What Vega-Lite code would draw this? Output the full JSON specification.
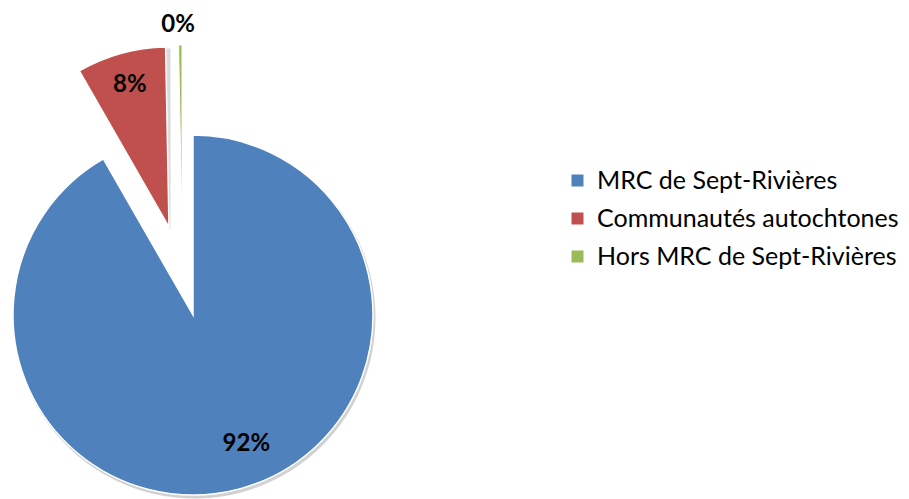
{
  "$schema": "https://vega.github.io/schema/vega-lite/v6.json",
  "width": 386,
  "height": 362,
  "autosize": "none",
  "padding": {"left": 0, "top": 134, "right": 523, "bottom": 3},
  "background": "white",
  "data": {"values": [
    {"cat": "MRC de Sept-Rivières", "value": 91.7, "label": "92%"},
    {"cat": "Communautés autochtones", "value": 8.0, "label": "8%"},
    {"cat": "Hors MRC de Sept-Rivières", "value": 0.3, "label": "0%"}
  ]},
  "encoding": {
    "theta": {"field": "value", "type": "quantitative", "stack": true},
    "order": {"field": "value", "type": "quantitative", "sort": "descending"},
    "color": {
      "field": "cat", "type": "nominal",
      "sort": ["MRC de Sept-Rivières", "Communautés autochtones", "Hors MRC de Sept-Rivières"],
      "scale": {"domain": ["MRC de Sept-Rivières", "Communautés autochtones", "Hors MRC de Sept-Rivières"], "range": ["#4F81BD", "#C0504D", "#9BBB59"]},
      "legend": {"title": null, "orient": "none", "legendX": 565, "legendY": 34}
    }
  },
  "layer": [
    {
      "mark": {"type": "arc", "outerRadius": 181, "xOffset": 1.5, "yOffset": 2.5},
      "encoding": {"color": {"value": "#000000"}, "opacity": {"condition": {"test": "datum.cat === 'MRC de Sept-Rivières'", "value": 0.18}, "value": 0}}
    },
    {
      "mark": {"type": "arc", "outerRadius": 181, "xOffset": -22.5, "yOffset": -85.5},
      "encoding": {"color": {"value": "#000000"}, "opacity": {"condition": {"test": "datum.cat !== 'MRC de Sept-Rivières'", "value": 0.15}, "value": 0}}
    },
    {
      "mark": {"type": "arc", "outerRadius": 180, "stroke": "white", "strokeWidth": 1.5},
      "encoding": {"opacity": {"condition": {"test": "datum.cat === 'MRC de Sept-Rivières'", "value": 1}, "value": 0}}
    },
    {
      "mark": {"type": "arc", "outerRadius": 180, "stroke": "white", "strokeWidth": 1.5, "xOffset": -24, "yOffset": -88},
      "encoding": {"opacity": {"condition": {"test": "datum.cat === 'Communautés autochtones'", "value": 1}, "value": 0}}
    },
    {
      "mark": {"type": "arc", "outerRadius": 182, "stroke": "white", "strokeWidth": 1, "xOffset": -11, "yOffset": -88},
      "encoding": {"opacity": {"condition": {"test": "datum.cat === 'Hors MRC de Sept-Rivières'", "value": 1}, "value": 0}}
    },
    {
      "mark": {"type": "text", "radius": 133, "dx": 19, "font": "Lato", "fontWeight": "bold", "fontSize": 24, "baseline": "middle"},
      "encoding": {"color": {"value": "black"}, "text": {"condition": {"test": "datum.cat === 'MRC de Sept-Rivières'", "field": "label"}, "value": ""}}
    },
    {
      "mark": {"type": "text", "radius": 147, "xOffset": -24, "yOffset": -88, "font": "Lato", "fontWeight": "bold", "fontSize": 24, "baseline": "middle"},
      "encoding": {"color": {"value": "black"}, "text": {"condition": {"test": "datum.cat === 'Communautés autochtones'", "field": "label"}, "value": ""}}
    },
    {
      "mark": {"type": "text", "radius": 202, "dx": -2, "xOffset": -11, "yOffset": -88, "font": "Lato", "fontWeight": "bold", "fontSize": 24, "baseline": "middle"},
      "encoding": {"color": {"value": "black"}, "text": {"condition": {"test": "datum.cat === 'Hors MRC de Sept-Rivières'", "field": "label"}, "value": ""}}
    }
  ],
  "config": {
    "view": {"stroke": null},
    "legend": {
      "symbolType": "square", "symbolSize": 144, "symbolStrokeWidth": 0,
      "labelFont": "Lato", "labelFontSize": 25, "labelColor": "black",
      "labelLimit": 400, "rowPadding": 12, "labelOffset": 7
    }
  }
}
